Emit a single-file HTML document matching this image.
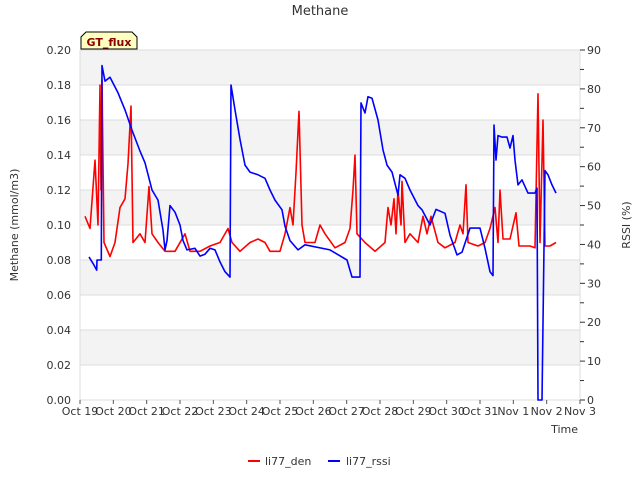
<!DOCTYPE html>
<html><head><meta charset="utf-8"><style>
body{margin:0;background:#fff;font-family:"Liberation Sans","DejaVu Sans",sans-serif}
svg text{font-family:"DejaVu Sans","Liberation Sans",sans-serif;fill:#333}
</style></head><body>
<svg id="chart" width="640" height="480" viewBox="0 0 640 480">
<text x="320" y="15" text-anchor="middle" font-size="13" fill="#444">Methane</text>
<g id="bands"></g>
<g id="axes"></g>
<g id="series"></g>
<g>
<path d="M81,49 L81,37 L86,32 L132,32 L137,37 L137,49 Z" fill="#ffffc0" stroke="#000" stroke-width="1"/>
<text x="109" y="46" text-anchor="middle" font-size="11" font-weight="bold" fill="#8b0000" style="fill:#8b0000">GT_flux</text>
</g>
<text transform="translate(18,225) rotate(-90)" text-anchor="middle" font-size="11">Methane (mmol/m3)</text>
<text transform="translate(630,225) rotate(-90)" text-anchor="middle" font-size="11">RSSI (%)</text>
<text x="578" y="433" text-anchor="end" font-size="11">Time</text>
<g>
<g><line x1="248" y1="461" x2="260" y2="461" stroke="#f00" stroke-width="2"/><text x="265" y="465" font-size="11">li77_den</text></g>
<g><line x1="328" y1="461" x2="340" y2="461" stroke="#00f" stroke-width="2"/><text x="346" y="465" font-size="11">li77_rssi</text></g>
</g>
</svg>
<script>
const xTickLabels=["Oct 19","Oct 20","Oct 21","Oct 22","Oct 23","Oct 24","Oct 25","Oct 26","Oct 27","Oct 28","Oct 29","Oct 30","Oct 31","Nov 1","Nov 2","Nov 3"];
const yTicks=[0,0.02,0.04,0.06,0.08,0.10,0.12,0.14,0.16,0.18,0.20];
const y2Ticks=[0,10,20,30,40,50,60,70,80,90];
const denDays=[0.15,0.3,0.45,0.54,0.6,0.63,0.66,0.72,0.9,1.05,1.2,1.35,1.44,1.53,1.59,1.8,1.95,2.07,2.16,2.34,2.55,2.85,3.15,3.3,3.6,3.9,4.2,4.44,4.56,4.8,5.1,5.34,5.55,5.7,6.0,6.15,6.3,6.39,6.48,6.57,6.66,6.75,7.05,7.2,7.35,7.65,7.95,8.1,8.19,8.25,8.31,8.55,8.85,9.15,9.24,9.33,9.42,9.48,9.54,9.63,9.66,9.75,9.9,10.14,10.29,10.41,10.53,10.74,10.95,11.25,11.4,11.49,11.58,11.64,11.94,12.15,12.3,12.45,12.54,12.6,12.69,12.9,13.08,13.17,13.35,13.5,13.65,13.74,13.8,13.89,13.95,14.1,14.28];
const denVals=[0.105,0.098,0.137,0.1,0.18,0.12,0.183,0.09,0.082,0.09,0.11,0.115,0.135,0.168,0.09,0.095,0.09,0.122,0.095,0.09,0.085,0.085,0.095,0.085,0.085,0.088,0.09,0.098,0.09,0.085,0.09,0.092,0.09,0.085,0.085,0.095,0.11,0.1,0.13,0.165,0.1,0.09,0.09,0.1,0.095,0.087,0.09,0.098,0.12,0.14,0.095,0.09,0.085,0.09,0.11,0.1,0.115,0.095,0.12,0.1,0.125,0.09,0.095,0.09,0.105,0.095,0.105,0.09,0.087,0.09,0.1,0.095,0.123,0.09,0.088,0.09,0.098,0.11,0.09,0.12,0.092,0.092,0.107,0.088,0.088,0.088,0.087,0.175,0.09,0.16,0.088,0.088,0.09];
const rssiDays=[0.27,0.4,0.5,0.51,0.64,0.66,0.75,0.9,1.14,1.35,1.56,1.8,1.95,2.04,2.16,2.34,2.49,2.55,2.61,2.7,2.85,3.0,3.09,3.21,3.45,3.6,3.75,3.9,4.05,4.2,4.35,4.5,4.53,4.65,4.8,4.95,5.1,5.34,5.55,5.7,5.85,6.06,6.15,6.3,6.54,6.75,7.5,8.01,8.16,8.4,8.43,8.55,8.64,8.76,8.94,9.09,9.21,9.36,9.54,9.6,9.75,9.9,10.14,10.26,10.5,10.68,10.95,11.1,11.31,11.46,11.7,12.0,12.15,12.3,12.39,12.42,12.48,12.54,12.66,12.81,12.9,12.99,13.05,13.14,13.26,13.44,13.65,13.71,13.74,13.83,13.86,13.95,14.04,14.16,14.28];
const rssiVals=[36.8,35,33.4,36,36,86,82,83,79,74.6,69.4,64,61,58,54,51.4,43.7,38.6,41,50,48.3,45,41,38.6,39,37,37.5,39,38.6,35.5,33,31.6,81,74.6,67,60.4,58.6,57.9,57,54,51.4,48.9,44.7,41,38.6,39.9,38.6,36,31.6,31.6,76.4,73.8,78,77.6,72,64.3,60.4,58.6,52.7,57.9,57,54,50,48.9,45,49,48,42.4,37.3,38,44.2,44.2,39,33,32,70.7,61.7,68,67.6,67.6,64.8,68,61.7,55.3,56.6,53.2,53.2,54.5,0,0,0,59,57.9,55.3,53.2];
const L=80,R=580,T=50,B=400,NS="http://www.w3.org/2000/svg";
const xS=d=>L+d*(R-L)/15;
const yS=v=>B-v/0.2*(B-T);
const y2S=v=>B-v/90*(B-T);
function mk(tag,attrs,parent){const e=document.createElementNS(NS,tag);for(const k in attrs)e.setAttribute(k,attrs[k]);parent.appendChild(e);return e;}
const bands=document.getElementById('bands'),axes=document.getElementById('axes'),series=document.getElementById('series');
for(let i=0;i<yTicks.length-1;i++){
  const y0=yS(yTicks[i+1]),y1=yS(yTicks[i]);
  const r=mk('rect',{x:L,y:y0,width:R-L,height:y1-y0,fill:(i%2===1)?'#f3f3f3':'#ffffff'},bands);
  
  
}
yTicks.forEach(v=>{
  const g=mk('line',{x1:L,x2:R,y1:yS(v),y2:yS(v),stroke:'#dcdcdc','stroke-width':1},bands);
  
  
  const t=mk('text',{x:L-9,y:yS(v)+4,'text-anchor':'end','font-size':11},axes);
  t.textContent=v.toFixed(2);
  
  
});
mk('line',{x1:R,x2:R,y1:T,y2:B,stroke:'#dcdcdc'},axes);
mk('line',{x1:L,x2:L,y1:T,y2:B,stroke:'#dcdcdc'},axes);
y2Ticks.forEach((v,i)=>{
  mk('line',{x1:R,x2:R+5,y1:y2S(v),y2:y2S(v),stroke:'#333'},axes);
  if(i<y2Ticks.length-1) mk('line',{x1:R,x2:R+4,y1:y2S(v+5),y2:y2S(v+5),stroke:'#333'},axes);
  const t=mk('text',{x:R+7,y:y2S(v)+4,'font-size':11},axes);
  t.textContent=v;
  
  
});
xTickLabels.forEach((s,i)=>{
  mk('line',{x1:xS(i),x2:xS(i),y1:B,y2:B+4,stroke:'#555'},axes);
  const t=mk('text',{x:xS(i),y:B+15,'text-anchor':'middle','font-size':11},axes);
  t.textContent=s;
  
  
});
const dPts=denDays.map((d,i)=>xS(d).toFixed(1)+','+yS(denVals[i]).toFixed(1)).join(' ');
const dl=mk('polyline',{points:dPts,fill:'none',stroke:'#f00','stroke-width':1.6,'stroke-linejoin':'round'},series);


const rPts=rssiDays.map((d,i)=>xS(d).toFixed(1)+','+y2S(rssiVals[i]).toFixed(1)).join(' ');
const rl=mk('polyline',{points:rPts,fill:'none',stroke:'#00f','stroke-width':1.6,'stroke-linejoin':'round'},series);


</script>
</body></html>
